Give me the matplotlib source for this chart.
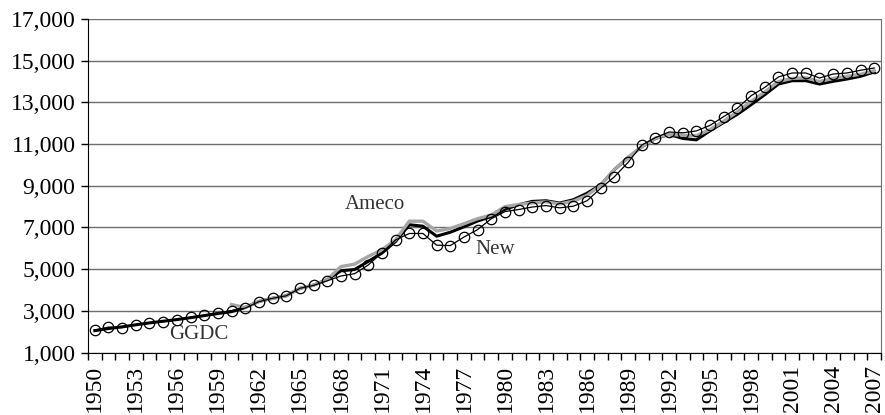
import matplotlib
matplotlib.use("Agg")
import matplotlib.pyplot as plt
from matplotlib.ticker import FuncFormatter

years = list(range(1950, 2008))

# New series (circles)
new = [2070, 2220, 2190, 2330, 2420, 2480, 2560, 2680, 2790, 2900,
       3010, 3130, 3440, 3600, 3720, 4080, 4220, 4440, 4670, 4780,
       5200, 5790, 6400, 6710, 6710, 6150, 6130, 6540, 6900, 7420,
       7760, 7860, 7980, 8050, 7940, 8020, 8280, 8880, 9430, 10120,
       10950, 11310, 11580, 11540, 11630, 11900, 12320, 12720, 13320, 13720,
       14220, 14410, 14410, 14170, 14360, 14410, 14540, 14650]

# Ameco starts in 1960
ameco_years = list(range(1960, 2008))
ameco = [3300, 3160, 3450, 3600, 3720, 4080, 4230, 4500, 5120, 5240,
         5610, 5930, 6410, 7300, 7300, 6830, 6950, 7180, 7420, 7600,
         8000, 8100, 8180, 8230, 8130, 8260, 8540, 9020, 9780, 10360,
         10880, 11280, 11470, 11420, 11400, 11700, 12100, 12550, 13050, 13500,
         14000, 14150, 14180, 14000, 14150, 14250, 14350, 14520]

# GGDC
ggdc = [2050, 2150, 2230, 2330, 2420, 2500, 2580, 2670, 2770, 2870,
        2960, 3160, 3450, 3600, 3720, 4080, 4230, 4500, 4920, 4980,
        5370, 5770, 6330, 7130, 7060, 6580, 6770, 7030, 7310, 7520,
        7870, 8090, 8250, 8280, 8170, 8330, 8640, 9040, 9770, 10350,
        10870, 11270, 11460, 11270, 11200, 11640, 12040, 12430, 12890, 13370,
        13880, 14040, 14040, 13880, 14010, 14120, 14250, 14460]

plt.rcParams['font.family'] = ['Liberation Serif', 'DejaVu Serif']

fig = plt.figure(figsize=(8.85, 4.15), dpi=100)
ax = fig.add_axes([0.0994, 0.1506, 0.8961, 0.8036])

ax.plot(years, ggdc, color="black", lw=2.2, zorder=3)
ax.plot(ameco_years, ameco, color="#a6a6a6", lw=2.4, zorder=4)
ax.plot(years, new, color="black", lw=0.9, marker="o", ms=7.5,
        markerfacecolor="none", markeredgecolor="black", markeredgewidth=0.9, zorder=5)

ax.set_xlim(1949.5, 2007.5)
ax.set_ylim(1000, 17000)
ax.set_yticks(range(1000, 17001, 2000))
ax.yaxis.set_major_formatter(FuncFormatter(lambda v, p: f"{int(v):,}"))
ax.grid(axis="y", color="#6e6e6e", lw=1.0)
ax.set_axisbelow(True)

ax.set_xticks(years[::3])
ax.set_xticklabels([str(y) for y in years[::3]], rotation=90)
ax.set_xticks([y - 0.5 for y in years] + [2007.5], minor=True)
ax.tick_params(axis="x", which="major", length=0, pad=9, labelsize=17)
ax.tick_params(axis="x", which="minor", length=5, width=1, direction="out")
ax.tick_params(axis="y", length=5, width=1, labelsize=17, pad=4)

ax.spines["top"].set_visible(False)
ax.spines["right"].set_color("#6e6e6e")
ax.spines["left"].set_color("black")
ax.spines["bottom"].set_color("black")

ax.text(1970.5, 8120, "Ameco", fontsize=15, color="#333333", ha="center", va="center")
ax.text(1979.3, 5950, "New", fontsize=15, color="#333333", ha="center", va="center")
ax.text(1957.6, 1840, "GGDC", fontsize=15, color="#333333", ha="center", va="center")

fig.savefig("out.png", dpi=100)
